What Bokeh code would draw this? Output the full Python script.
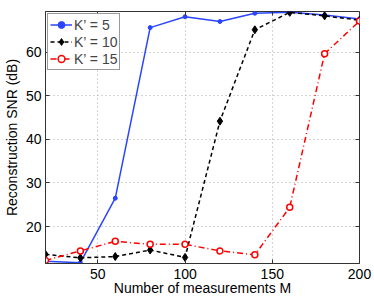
from bokeh.plotting import figure
from bokeh.models import Range1d, Legend, LegendItem, FixedTicker, LinearAxis
from bokeh.embed import file_html
from bokeh.resources import INLINE

M = [20, 40, 60, 80, 100, 120, 140, 160, 180, 200]
snr_k5 = [12.0, 11.7, 26.5, 65.7, 68.2, 67.1, 69.0, 69.2, 68.6, 67.7]
snr_k10 = [13.6, 12.8, 13.1, 14.6, 12.9, 44.2, 65.2, 69.2, 68.4, 67.4]
snr_k15 = [12.2, 14.4, 16.6, 15.9, 15.9, 14.4, 13.5, 24.4, 59.7, 67.2]
labels = ["K\u2019 = 5", "K\u2019 = 10", "K\u2019 = 15"]
x_ticks = [50, 100, 150, 200]
y_ticks = [20, 30, 40, 50, 60]
x_title = "Number of measurements M"
y_title = "Reconstruction SNR (dB)"

FONT = "Liberation Sans"
W, H = 374, 298
BL, BR, BT, BB = 40, 15, 11, 35

p = figure(width=W, height=H, output_backend="svg", toolbar_location=None,
           x_range=Range1d(20, 200), y_range=Range1d(11.5, 69.4),
           min_border_left=BL, min_border_right=BR, min_border_top=BT, min_border_bottom=BB)

p.outline_line_color = "#333333"
p.outline_line_width = 1
p.background_fill_color = "white"
p.border_fill_color = "white"

for ax in (p.xaxis, p.yaxis):
    ax.major_tick_in = 4
    ax.major_tick_out = 0
    ax.minor_tick_line_color = None
    ax.axis_line_color = "#333333"
    ax.major_tick_line_color = "#333333"
    ax.major_label_text_font = FONT
    ax.major_label_text_font_size = "14px"
    ax.major_label_text_color = "black"
    ax.axis_label_text_font = FONT
    ax.axis_label_text_font_size = "14px"
    ax.axis_label_text_font_style = "normal"
    ax.axis_label_text_color = "black"

p.xaxis.ticker = FixedTicker(ticks=x_ticks)
p.yaxis.ticker = FixedTicker(ticks=y_ticks)
p.xaxis.axis_label = x_title
p.yaxis.axis_label = y_title
p.xaxis.major_label_standoff = 5
p.xaxis.axis_label_standoff = -2
p.yaxis.major_label_standoff = 4
p.yaxis.axis_label_standoff = 3

# mirrored tick marks on the top and right edges of the box (no labels)
for side, ticks in (("above", x_ticks), ("right", y_ticks)):
    mirror = LinearAxis(ticker=FixedTicker(ticks=ticks), major_tick_in=4, major_tick_out=0,
                        minor_tick_line_color=None, axis_line_color=None,
                        major_tick_line_color="#333333", major_label_text_color=None,
                        major_label_text_font_size="1px", major_label_standoff=0)
    p.add_layout(mirror, side)

for g in (p.xgrid, p.ygrid):
    g.grid_line_color = "#aaaaaa"
    g.grid_line_dash = "1 3"
    g.grid_line_width = 1
p.xgrid.ticker = FixedTicker(ticks=x_ticks)
p.ygrid.ticker = FixedTicker(ticks=y_ticks)

l1 = p.line(M, snr_k5, line_color="#2a45ff", line_width=1.5)
m1 = p.scatter(M, snr_k5, marker="circle", size=4, fill_color="#2a45ff", line_color="#2a45ff")
l2 = p.line(M, snr_k10, line_color="black", line_width=1.5, line_dash="4 3")
m2 = p.scatter(M, snr_k10, marker="diamond", size=8, fill_color="black", line_color="black")
l3 = p.line(M, snr_k15, line_color="red", line_width=1.5, line_dash="6 3 1 3")
m3 = p.scatter(M, snr_k15, marker="circle", size=6, fill_color="white", line_color="red", line_width=1.5)

legend = Legend(items=[LegendItem(label=labels[0], renderers=[l1, m1]),
                       LegendItem(label=labels[1], renderers=[l2, m2]),
                       LegendItem(label=labels[2], renderers=[l3, m3])],
                location="top_left")
legend.label_text_font = FONT
legend.label_text_font_size = "14px"
legend.border_line_color = "#333333"
legend.border_line_width = 1
legend.margin = 2
legend.padding = 2
legend.spacing = 0
legend.glyph_width = 22
legend.glyph_height = 17
legend.label_standoff = 2
legend.label_height = 17
p.add_layout(legend)

open("out.html", "w").write(file_html(p, INLINE))
